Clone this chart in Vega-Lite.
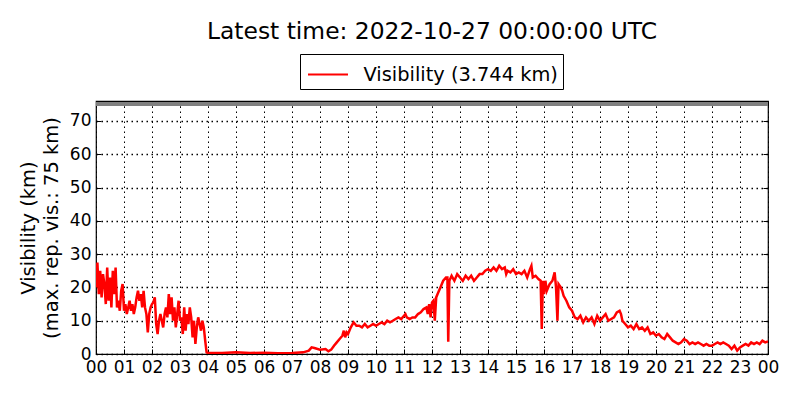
{
  "$schema": "https://vega.github.io/schema/vega-lite/v6.json",
  "width": 672,
  "height": 253,
  "autosize": {"type": "none"},
  "padding": {"left": 96, "top": 101, "right": 32, "bottom": 46},
  "background": "white",
  "title": {
    "text": "Latest time: 2022-10-27 00:00:00 UTC",
    "font": "DejaVu Sans",
    "fontSize": 23.4,
    "fontWeight": "normal",
    "color": "black",
    "offset": 9
  },
  "config": {
    "font": "DejaVu Sans",
    "view": {"stroke": "black", "strokeWidth": 1.2},
    "axis": {
      "domain": false,
      "labelFont": "DejaVu Sans",
      "labelFontSize": 17,
      "labelColor": "black",
      "titleFont": "DejaVu Sans",
      "titleFontSize": 19.5,
      "titleFontWeight": "normal",
      "titleColor": "black",
      "tickColor": "black",
      "tickSize": -5,
      "tickWidth": 1,
      "labelPadding": 10,
      "gridColor": "black",
      "gridDash": [1.5, 3.5],
      "gridWidth": 1,
      "gridOpacity": 1
    },
    "axisY": {"gridWidth": 1.4, "gridDash": [1.5, 3.5]}
  },
  "data": {
    "values": [
      {"h": 0.00, "v": 20}, {"h": 0.05, "v": 27.5}, {"h": 0.10, "v": 18}, {"h": 0.15, "v": 25},
      {"h": 0.20, "v": 17}, {"h": 0.25, "v": 24}, {"h": 0.30, "v": 21}, {"h": 0.35, "v": 15},
      {"h": 0.40, "v": 26}, {"h": 0.45, "v": 16}, {"h": 0.50, "v": 23}, {"h": 0.55, "v": 14},
      {"h": 0.60, "v": 25}, {"h": 0.65, "v": 18}, {"h": 0.70, "v": 26}, {"h": 0.75, "v": 14},
      {"h": 0.80, "v": 16}, {"h": 0.85, "v": 13}, {"h": 0.90, "v": 19}, {"h": 0.95, "v": 21},
      {"h": 1.00, "v": 13}, {"h": 1.05, "v": 15}, {"h": 1.10, "v": 12}, {"h": 1.15, "v": 14},
      {"h": 1.20, "v": 16}, {"h": 1.25, "v": 13}, {"h": 1.30, "v": 15}, {"h": 1.35, "v": 12},
      {"h": 1.40, "v": 14}, {"h": 1.45, "v": 17}, {"h": 1.50, "v": 19}, {"h": 1.55, "v": 16},
      {"h": 1.60, "v": 18}, {"h": 1.65, "v": 14}, {"h": 1.70, "v": 19}, {"h": 1.75, "v": 14},
      {"h": 1.80, "v": 12}, {"h": 1.85, "v": 6.5}, {"h": 1.90, "v": 12}, {"h": 1.95, "v": 14},
      {"h": 2.00, "v": 15}, {"h": 2.05, "v": 15.5}, {"h": 2.10, "v": 17}, {"h": 2.15, "v": 9},
      {"h": 2.20, "v": 6}, {"h": 2.25, "v": 10}, {"h": 2.30, "v": 12}, {"h": 2.35, "v": 10},
      {"h": 2.40, "v": 8}, {"h": 2.45, "v": 12}, {"h": 2.50, "v": 14}, {"h": 2.55, "v": 11},
      {"h": 2.60, "v": 18}, {"h": 2.65, "v": 12}, {"h": 2.70, "v": 17}, {"h": 2.75, "v": 10},
      {"h": 2.80, "v": 14}, {"h": 2.85, "v": 8}, {"h": 2.90, "v": 12}, {"h": 2.95, "v": 16},
      {"h": 3.00, "v": 10}, {"h": 3.05, "v": 11}, {"h": 3.10, "v": 6}, {"h": 3.15, "v": 14},
      {"h": 3.20, "v": 7}, {"h": 3.25, "v": 12}, {"h": 3.30, "v": 9}, {"h": 3.35, "v": 14},
      {"h": 3.40, "v": 11}, {"h": 3.45, "v": 5}, {"h": 3.50, "v": 10}, {"h": 3.55, "v": 3},
      {"h": 3.60, "v": 8}, {"h": 3.65, "v": 11}, {"h": 3.70, "v": 9}, {"h": 3.75, "v": 7},
      {"h": 3.80, "v": 10}, {"h": 3.85, "v": 8}, {"h": 3.90, "v": 4}, {"h": 3.95, "v": 0.5},
      {"h": 4.00, "v": 0.3}, {"h": 4.50, "v": 0.3}, {"h": 5.00, "v": 0.5}, {"h": 5.50, "v": 0.3},
      {"h": 6.00, "v": 0.4}, {"h": 6.50, "v": 0.2}, {"h": 7.00, "v": 0.3}, {"h": 7.40, "v": 0.5},
      {"h": 7.60, "v": 1.0}, {"h": 7.70, "v": 2.0}, {"h": 7.80, "v": 1.8}, {"h": 8.00, "v": 1.3},
      {"h": 8.20, "v": 1.5}, {"h": 8.30, "v": 0.8}, {"h": 8.40, "v": 1.3}, {"h": 8.50, "v": 2.5},
      {"h": 8.60, "v": 3.5}, {"h": 8.70, "v": 4.5}, {"h": 8.80, "v": 5.5}, {"h": 8.85, "v": 7},
      {"h": 8.90, "v": 5}, {"h": 8.95, "v": 6.5}, {"h": 9.00, "v": 6}, {"h": 9.10, "v": 8},
      {"h": 9.20, "v": 9.5}, {"h": 9.25, "v": 9}, {"h": 9.30, "v": 8.5}, {"h": 9.40, "v": 8.5},
      {"h": 9.50, "v": 8}, {"h": 9.60, "v": 9}, {"h": 9.70, "v": 8}, {"h": 9.80, "v": 8.5},
      {"h": 9.90, "v": 9}, {"h": 10.00, "v": 8.5}, {"h": 10.10, "v": 9}, {"h": 10.20, "v": 9.5},
      {"h": 10.30, "v": 9}, {"h": 10.40, "v": 10}, {"h": 10.50, "v": 9.5}, {"h": 10.60, "v": 10},
      {"h": 10.70, "v": 10.5}, {"h": 10.80, "v": 11}, {"h": 10.90, "v": 10.5}, {"h": 11.00, "v": 11.5},
      {"h": 11.05, "v": 12}, {"h": 11.10, "v": 11}, {"h": 11.20, "v": 10.5}, {"h": 11.30, "v": 11},
      {"h": 11.40, "v": 11}, {"h": 11.50, "v": 12}, {"h": 11.60, "v": 12.5}, {"h": 11.70, "v": 13.5},
      {"h": 11.80, "v": 14}, {"h": 11.85, "v": 12}, {"h": 11.90, "v": 15}, {"h": 11.95, "v": 11},
      {"h": 12.00, "v": 15.5}, {"h": 12.05, "v": 16}, {"h": 12.10, "v": 10}, {"h": 12.15, "v": 17},
      {"h": 12.20, "v": 18}, {"h": 12.30, "v": 20}, {"h": 12.40, "v": 22}, {"h": 12.50, "v": 23},
      {"h": 12.55, "v": 23}, {"h": 12.58, "v": 3.7}, {"h": 12.62, "v": 22}, {"h": 12.70, "v": 23.5},
      {"h": 12.80, "v": 22}, {"h": 12.90, "v": 24}, {"h": 13.00, "v": 23}, {"h": 13.10, "v": 22},
      {"h": 13.20, "v": 23.5}, {"h": 13.30, "v": 22.5}, {"h": 13.40, "v": 23.5}, {"h": 13.50, "v": 22},
      {"h": 13.60, "v": 23}, {"h": 13.70, "v": 24}, {"h": 13.80, "v": 24}, {"h": 13.90, "v": 25},
      {"h": 14.00, "v": 25.5}, {"h": 14.10, "v": 25}, {"h": 14.20, "v": 26}, {"h": 14.30, "v": 25},
      {"h": 14.40, "v": 26.5}, {"h": 14.50, "v": 25.5}, {"h": 14.60, "v": 26}, {"h": 14.65, "v": 24},
      {"h": 14.70, "v": 25}, {"h": 14.80, "v": 24.5}, {"h": 14.90, "v": 25.5}, {"h": 15.00, "v": 24},
      {"h": 15.10, "v": 24.5}, {"h": 15.20, "v": 24}, {"h": 15.30, "v": 25}, {"h": 15.40, "v": 23},
      {"h": 15.50, "v": 25.5}, {"h": 15.55, "v": 26.5}, {"h": 15.60, "v": 23}, {"h": 15.70, "v": 23.5},
      {"h": 15.80, "v": 22.5}, {"h": 15.88, "v": 22}, {"h": 15.92, "v": 7.5}, {"h": 15.96, "v": 22},
      {"h": 16.00, "v": 18}, {"h": 16.05, "v": 22}, {"h": 16.10, "v": 19}, {"h": 16.20, "v": 21},
      {"h": 16.30, "v": 22}, {"h": 16.38, "v": 24.5}, {"h": 16.43, "v": 20}, {"h": 16.48, "v": 10},
      {"h": 16.52, "v": 21}, {"h": 16.60, "v": 20}, {"h": 16.65, "v": 19}, {"h": 16.70, "v": 17.5},
      {"h": 16.80, "v": 16}, {"h": 16.90, "v": 14}, {"h": 17.00, "v": 13}, {"h": 17.10, "v": 11},
      {"h": 17.20, "v": 10.5}, {"h": 17.30, "v": 11.5}, {"h": 17.40, "v": 9.5}, {"h": 17.50, "v": 11},
      {"h": 17.60, "v": 10}, {"h": 17.70, "v": 11}, {"h": 17.80, "v": 9}, {"h": 17.90, "v": 11.5},
      {"h": 18.00, "v": 10}, {"h": 18.10, "v": 11}, {"h": 18.20, "v": 12}, {"h": 18.30, "v": 10},
      {"h": 18.40, "v": 10.5}, {"h": 18.50, "v": 11}, {"h": 18.60, "v": 12.5}, {"h": 18.70, "v": 13},
      {"h": 18.75, "v": 12}, {"h": 18.80, "v": 10}, {"h": 18.90, "v": 9}, {"h": 19.00, "v": 8},
      {"h": 19.10, "v": 8.5}, {"h": 19.20, "v": 7.5}, {"h": 19.30, "v": 9}, {"h": 19.40, "v": 7.5},
      {"h": 19.50, "v": 8}, {"h": 19.60, "v": 7}, {"h": 19.70, "v": 8}, {"h": 19.80, "v": 6},
      {"h": 19.90, "v": 6.5}, {"h": 20.00, "v": 5.5}, {"h": 20.10, "v": 6}, {"h": 20.20, "v": 5},
      {"h": 20.30, "v": 4.5}, {"h": 20.40, "v": 6}, {"h": 20.50, "v": 5}, {"h": 20.60, "v": 4},
      {"h": 20.70, "v": 3.5}, {"h": 20.80, "v": 3}, {"h": 20.90, "v": 3.5}, {"h": 21.00, "v": 4.5},
      {"h": 21.10, "v": 4}, {"h": 21.20, "v": 3}, {"h": 21.30, "v": 3.5}, {"h": 21.40, "v": 3},
      {"h": 21.50, "v": 3.5}, {"h": 21.60, "v": 3}, {"h": 21.70, "v": 2.5}, {"h": 21.80, "v": 3},
      {"h": 21.90, "v": 2.5}, {"h": 22.00, "v": 2.5}, {"h": 22.10, "v": 3}, {"h": 22.20, "v": 3.5},
      {"h": 22.30, "v": 3}, {"h": 22.40, "v": 3.5}, {"h": 22.50, "v": 3}, {"h": 22.60, "v": 2.5},
      {"h": 22.70, "v": 1.5}, {"h": 22.80, "v": 2.5}, {"h": 22.90, "v": 1}, {"h": 23.00, "v": 2},
      {"h": 23.10, "v": 2.5}, {"h": 23.20, "v": 3}, {"h": 23.30, "v": 2.5}, {"h": 23.40, "v": 3.5},
      {"h": 23.50, "v": 3}, {"h": 23.60, "v": 3.5}, {"h": 23.70, "v": 3}, {"h": 23.80, "v": 4},
      {"h": 23.90, "v": 3.5}, {"h": 24.00, "v": 3.744}
    ]
  },
  "layer": [
    {
      "mark": {"type": "rule", "color": "#808080", "strokeWidth": 3},
      "encoding": {
        "y": {"datum": 75, "type": "quantitative", "axis": null}
      }
    },
    {
      "mark": {"type": "line", "strokeWidth": 2.5, "clip": true},
      "encoding": {
        "x": {
          "field": "h",
          "type": "quantitative",
          "scale": {"domain": [0, 24], "nice": false},
          "axis": {
            "title": null,
            "values": [0, 1, 2, 3, 4, 5, 6, 7, 8, 9, 10, 11, 12, 13, 14, 15, 16, 17, 18, 19, 20, 21, 22, 23, 24],
            "labelExpr": "(datum.value % 24) < 10 ? '0' + (datum.value % 24) : '' + datum.value",
            "labelFlush": false,
            "labelOverlap": false
          }
        },
        "y": {
          "field": "v",
          "type": "quantitative",
          "scale": {"domain": [0, 76], "nice": false, "zero": true},
          "axis": {
            "title": ["Visibility (km)", "(max. rep. vis.: 75 km)"],
            "titleLineHeight": 23,
            "titlePadding": 8,
            "grid": true,
            "values": [0, 10, 20, 30, 40, 50, 60, 70]
          }
        },
        "color": {
          "datum": "Visibility (3.744 km)",
          "scale": {"range": ["#ff0000"]},
          "legend": {
            "title": null,
            "orient": "none",
            "legendX": 204,
            "legendY": -47,
            "symbolType": "M-0.833,0H1.833",
            "symbolSize": 900,
            "symbolStrokeWidth": 2,
            "labelFont": "DejaVu Sans",
            "labelFontSize": 19.4,
            "labelColor": "black",
            "labelLimit": 400,
            "labelOffset": 27,
            "padding": 4.5,
            "strokeColor": "black",
            "fillColor": "white",
            "cornerRadius": 0
          }
        }
      }
    },
    {
      "mark": {"type": "point", "opacity": 0},
      "encoding": {
        "x": {
          "field": "h",
          "type": "quantitative",
          "axis": {
            "orient": "top",
            "title": null,
            "labels": false,
            "grid": false,
            "values": [0, 1, 2, 3, 4, 5, 6, 7, 8, 9, 10, 11, 12, 13, 14, 15, 16, 17, 18, 19, 20, 21, 22, 23, 24]
          }
        },
        "y": {
          "field": "v",
          "type": "quantitative",
          "axis": {
            "orient": "right",
            "title": null,
            "labels": false,
            "grid": false,
            "values": [0, 10, 20, 30, 40, 50, 60, 70]
          }
        }
      }
    }
  ],
  "resolve": {"axis": {"x": "independent", "y": "independent"}}
}
